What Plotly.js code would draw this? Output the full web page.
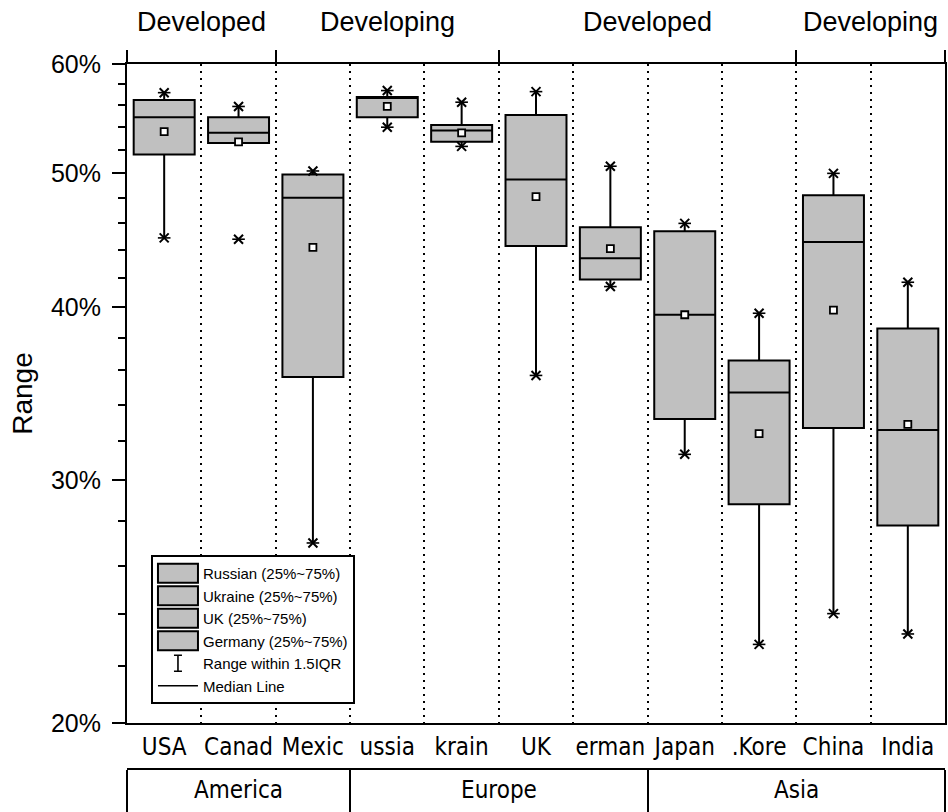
<!DOCTYPE html>
<html><head><meta charset="utf-8">
<script src="https://cdn.plot.ly/plotly-3.0.1.min.js"></script>
<style>html,body{margin:0;padding:0;background:#fff}#chart{width:948px;height:812px}</style>
</head><body><div id="chart"></div>
<script>
// ---- data ----
const categories = ['USA','Canada','Mexico','Russia','Ukraine','UK','Germany','Japan','S.Korea','China','India'];
const tickLabels = ['USA','Canad','Mexic','ussia','krain','UK','erman','Japan','.Kore','China','India'];
const q1Vals     = [51.6, 52.6, 35.6, 54.9, 52.7, 44.3, 41.9, 33.2, 28.8, 32.7, 27.8];
const medianVals = [54.9, 53.5, 48.0, 56.7, 53.7, 49.5, 43.4, 39.5, 34.7, 44.6, 32.6];
const q3Vals     = [56.5, 54.9, 49.9, 56.8, 54.2, 55.1, 45.7, 45.4, 36.6, 48.2, 38.6];
const lowerWhisk = [44.9, 52.6, 27.0, 54.0, 52.3, 35.7, 41.4, 31.3, 22.8, 24.0, 23.2];
const upperWhisk = [57.2, 55.9, 50.2, 57.4, 56.3, 57.3, 50.6, 46.0, 39.6, 50.0, 41.7];
const meanVals   = [53.6, 52.7, 44.2, 55.9, 53.5, 48.1, 44.1, 39.5, 32.4, 39.8, 32.9];
const maxVals    = [57.2, 55.9, 50.2, 57.4, 56.3, 57.3, 50.6, 46.0, 39.6, 50.0, 41.7];
const minVals    = [44.9, 44.8, 27.0, 54.0, 52.3, 35.7, 41.4, 31.3, 22.8, 24.0, 23.2];
const legendNames = {3:'Russian (25%~75%)', 4:'Ukraine (25%~75%)', 5:'UK (25%~75%)', 6:'Germany (25%~75%)'};
const devLabels = ['Developed','Developing','Developed','Developing'];
const devCounts = [2, 3, 4, 2];
const regionLabels = ['America','Europe','Asia'];
const regionCounts = [3, 4, 4];
const yTickVals = [20, 30, 40, 50, 60];
const yTickText = ['20%','30%','40%','50%','60%'];
const yMinorVals = [22,24,26,28,32,34,36,38,42,44,46,48,52,54,56,58];

// ---- helpers ----
const idx = categories.map((c, i) => i);
function bounds(counts){ const b=[-0.5]; let s=-0.5; counts.forEach(c=>{s+=c; b.push(s);}); return b; }
function centers(counts){ const r=[]; let s=0; counts.forEach(c=>{r.push(s + c/2 - 0.5); s+=c;}); return r; }
const devBounds = bounds(devCounts), devCenters = centers(devCounts);
const regBounds = bounds(regionCounts), regCenters = centers(regionCounts);
const catBounds = idx.slice(0, -1).map(i => i + 0.5);

const ARIAL = 'Liberation Sans, Arial, sans-serif';
const NARROW = 'Liberation Sans Narrow, Arial Narrow, DejaVu Sans Condensed, Liberation Sans, sans-serif';
const RANGE_NAME = 'Range within 1.5IQR';

const traces = [];
idx.forEach(i => {
  traces.push({
    type: 'box', x: [i], q1: [q1Vals[i]], median: [medianVals[i]], q3: [q3Vals[i]],
    lowerfence: [lowerWhisk[i]], upperfence: [upperWhisk[i]],
    width: 0.82, whiskerwidth: 0, boxpoints: false,
    fillcolor: '#c0c0c0', line: { color: '#000', width: 2 },
    name: legendNames[i] || categories[i], showlegend: !!legendNames[i],
    legendrank: i, hoverinfo: 'y'
  });
});
traces.push({
  type: 'scatter', mode: 'markers', x: idx, y: meanVals, showlegend: false,
  marker: { symbol: 'square', size: 7, color: '#fff', line: { color: '#000', width: 1.8 } }, hoverinfo: 'y'
});
// max / min markers: an x with a horizontal bar
const extX = idx.concat(idx), extY = maxVals.concat(minVals);
traces.push({
  type: 'scatter', mode: 'markers', x: extX, y: extY, showlegend: false,
  marker: { symbol: 'x-thin-open', size: 9, color: '#000', line: { color: '#000', width: 2 } }, hoverinfo: 'y'
});
traces.push({
  type: 'scatter', mode: 'markers', x: extX, y: extY, showlegend: false,
  marker: { symbol: 'line-ew-open', size: 9, color: '#000', line: { color: '#000', width: 1.6 } }, hoverinfo: 'skip'
});
traces.push({
  type: 'scatter', mode: 'markers', x: [null], y: [null], name: RANGE_NAME, legendrank: 20,
  marker: { symbol: 'line-ns-open', size: 16, color: '#000', line: { color: '#000', width: 2 } }
});
traces.push({
  type: 'scatter', mode: 'lines', x: [null], y: [null], name: 'Median Line', legendrank: 21,
  line: { color: '#000', width: 1.5 }
});
// dummy traces to register the overlay axes
traces.push({ type: 'scatter', x: [null], y: [null], xaxis: 'x2', showlegend: false, hoverinfo: 'skip' });
traces.push({ type: 'scatter', x: [null], y: [null], xaxis: 'x3', showlegend: false, hoverinfo: 'skip' });

const annotations = [];
devLabels.forEach((t, k) => annotations.push({
  text: t, x: devCenters[k], xref: 'x', y: 1.056, yref: 'paper', showarrow: false,
  xanchor: 'center', yanchor: 'middle', font: { family: ARIAL, size: 27, color: '#000' }
}));
regionLabels.forEach((t, k) => annotations.push({
  text: t, x: regCenters[k], xref: 'x', y: 0.029, yref: 'paper', showarrow: false,
  xanchor: 'center', yanchor: 'middle', font: { family: NARROW, size: 24, color: '#000' }
}));

const layout = {
  width: 948, height: 812,
  margin: { l: 127, r: 3, t: 64, b: 0 },
  paper_bgcolor: '#fff', plot_bgcolor: '#fff',
  showlegend: true, boxmode: 'overlay',
  xaxis: {
    type: 'linear', range: [-0.5, 10.5], fixedrange: true,
    tickmode: 'array', tickvals: idx, ticktext: tickLabels, ticks: '',
    ticklabelstandoff: 1,
    tickfont: { family: NARROW, size: 24, color: '#000' },
    showgrid: false, zeroline: false,
    showline: true, linecolor: '#000', linewidth: 2, mirror: true,
    minor: { tickmode: 'array', tickvals: catBounds, ticks: '', showgrid: true,
             gridcolor: '#000', gridwidth: 2, griddash: '2px,5px' }
  },
  xaxis2: {
    type: 'linear', overlaying: 'x', side: 'top', range: [-0.5, 10.5], fixedrange: true,
    tickmode: 'array', tickvals: devBounds, ticks: 'outside', ticklen: 13, tickwidth: 2, tickcolor: '#000',
    showticklabels: false, showgrid: false, zeroline: false, showline: false
  },
  xaxis3: {
    type: 'linear', overlaying: 'x', anchor: 'free', position: 0.0575, range: [-0.5, 10.5], fixedrange: true,
    tickmode: 'array', tickvals: regBounds, ticks: 'outside', ticklen: 60, tickwidth: 2, tickcolor: '#000',
    showticklabels: false, showgrid: false, zeroline: false,
    showline: true, linecolor: '#000', linewidth: 2
  },
  yaxis: {
    type: 'log', domain: [0.119, 1], range: [Math.log10(20), Math.log10(60)], fixedrange: true,
    tickmode: 'array', tickvals: yTickVals, ticktext: yTickText,
    ticks: 'outside', ticklen: 13, tickwidth: 2, tickcolor: '#000',
    ticklabelstandoff: 6,
    tickfont: { family: ARIAL, size: 25, color: '#000' },
    showgrid: false, zeroline: false,
    showline: true, linecolor: '#000', linewidth: 2, mirror: true,
    minor: { tickmode: 'array', tickvals: yMinorVals, ticks: 'outside', ticklen: 7, tickwidth: 2, tickcolor: '#000', showgrid: false },
    title: { text: 'Range', font: { family: ARIAL, size: 28, color: '#000' }, standoff: 10 }
  },
  legend: {
    x: 0.0293, xanchor: 'left', y: 0.1444, yanchor: 'bottom',
    bgcolor: '#fff', bordercolor: '#000', borderwidth: 2,
    font: { family: ARIAL, size: 15, color: '#000' },
    itemwidth: 40, tracegroupgap: 0, traceorder: 'normal'
  },
  annotations: annotations
};

Plotly.newPlot('chart', traces, layout, { displayModeBar: false, staticPlot: true }).then(gd => {
  // enlarge the legend's box swatches and give the range entry an I-beam glyph
  gd.querySelectorAll('.legend .traces').forEach(g => {
    const txt = g.querySelector('text.legendtext');
    g.querySelectorAll('path.legendbox').forEach(p => {
      p.setAttribute('d', 'M20,9.5H-20V-9.5H20Z');
    });
    if (txt && txt.textContent === RANGE_NAME) {
      g.querySelectorAll('path.scatterpts').forEach(p => {
        p.setAttribute('d', 'M-4,-8H4M0,-8V8M-4,8H4');
        p.style.fill = 'none'; p.style.stroke = '#000'; p.style.strokeWidth = '1.6px';
      });
    }
  });
});
</script>
</body></html>
